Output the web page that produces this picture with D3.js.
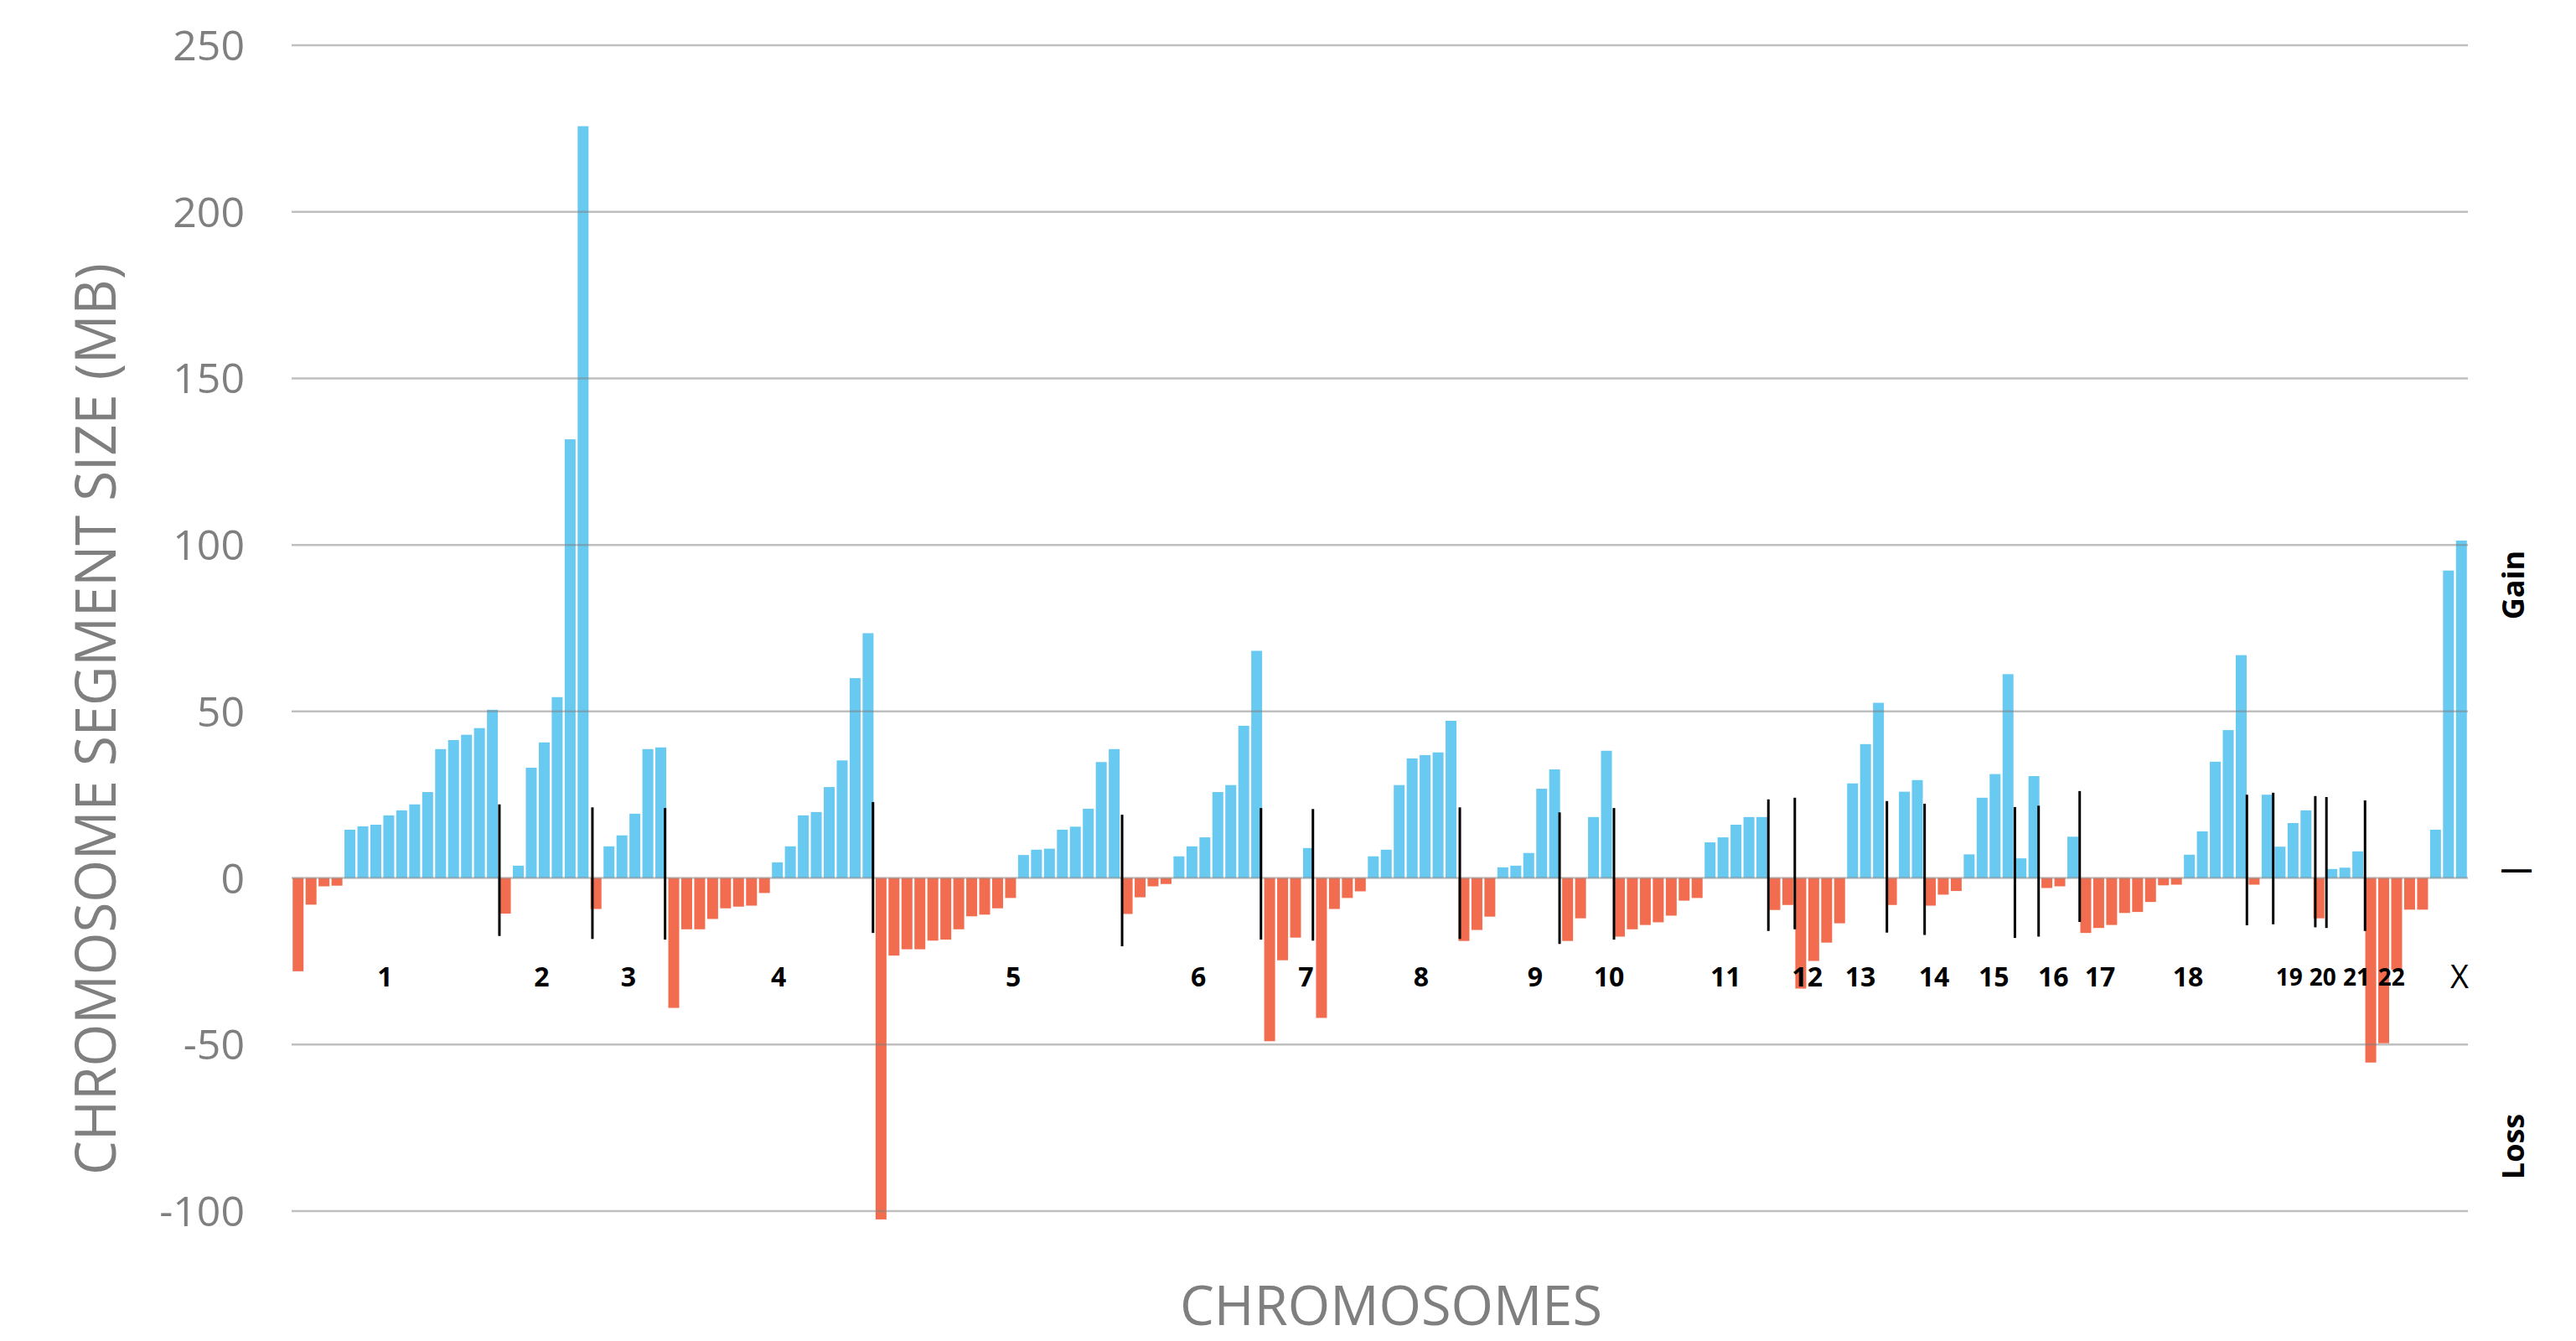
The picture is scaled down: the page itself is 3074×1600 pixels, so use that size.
<!DOCTYPE html>
<html>
<head>
<meta charset="utf-8">
<script src="https://cdn.jsdelivr.net/npm/d3@7"></script>
<style>
  body { margin: 0; background: #fff; }
  svg { display: block; }
</style>
</head>
<body>
<div id="chart"></div>
<script>
// segment sizes in MB, one bar per segment, in genome order (gain > 0, loss < 0)
const segmentSizes = [
  -28, -8, -2.5, -2.3, 14.5, 15.5, 16, 18.8, 20.3, 22.1, 25.8, 38.7, 41.4, 43, 45, 50.5,
  -10.7, 3.7, 33.1, 40.7, 54.3, 131.7, 225.7,
  -9.3, 9.5, 12.8, 19.3, 38.7, 39.2,
  -39, -15.4, -15.4, -12.3, -9.1, -8.6, -8.3, -4.5, 4.7, 9.5, 18.8, 19.8, 27.3, 35.3, 60, 73.5,
  -102.5, -23.3, -21.4, -21.4, -18.8, -18.5, -15.4, -11.5, -11, -9.1, -6, 6.9, 8.5, 8.8, 14.5, 15.4, 20.8, 34.8, 38.7,
  -10.8, -5.8, -2.5, -1.8, 6.5, 9.5, 12.2, 25.8, 27.9, 45.7, 68.2,
  -49, -24.7, -17.9, 9,
  -42, -9.3, -6, -4, 6.5, 8.5, 27.9, 35.9, 36.9, 37.7, 47.2,
  -18.9, -15.6, -11.6, 3.2, 3.7, 7.5, 26.8, 32.6,
  -18.9, -12.1, 18.3, 38.2,
  -17.6, -15.4, -14.1, -13.3, -11.3, -6.8, -6, 10.7, 12.2, 16, 18.3, 18.3,
  -9.6, -8.1,
  -33.2, -24.9, -19.4, -13.6, 28.4, 40.2, 52.6,
  -8.1, 25.9, 29.4,
  -8.3, -5, -3.9, 7.1, 24.1, 31.2, 61.2, 5.9,
  30.6,
  -3, -2.5, 12.4,
  -16.5, -15, -14.1, -10.5, -10.2, -7.2, -2.2, -2, 7, 14, 34.9, 44.4, 66.9,
  -2, 25,
  9.4, 16.5, 20.3,
  -12.1,
  2.7, 3.1, 8,
  -55.4, -49.6, -27.5, -9.5, -9.5, 14.5, 92.3, 101.3
]

// chromosome names and where they sit along the bar axis (in bar slots)
const chromLabels = ['1', '2', '3', '4', '5', '6', '7', '8', '9', '10', '11', '12',
  '13', '14', '15', '16', '17', '18', '19', '20', '21', '22', 'X']
const chromLabelSlots = [7.2, 19.3, 26.0, 37.6, 55.7, 70.0, 78.3, 87.2, 96.0, 101.7, 110.7, 117.0,
  121.1, 126.8, 131.4, 136.0, 139.6, 146.4, 154.2, 156.8, 159.4, 162.1, 167.35]

// chromosome separators: slot boundary, top and bottom value (MB)
const separatorSlots = [16.04, 23.22, 28.83, 44.88, 64.11, 74.83, 78.84, 90.18, 97.88, 102.08, 114.0,
  116.04, 123.15, 126.06, 133.03, 134.86, 138.03, 150.94, 152.97, 156.22, 157.08, 160.06]
const separatorTops = [22.1, 21.2, 21.0, 22.8, 19.0, 21.0, 20.7, 21.2, 19.7, 21.0, 23.6,
  24.1, 23.1, 22.3, 21.3, 21.7, 26.1, 25.0, 25.6, 24.6, 24.3, 23.3]
const separatorBottoms = [-17.4, -18.3, -18.5, -16.5, -20.5, -18.5, -18.8, -18.3, -19.8, -18.5, -15.9,
  -15.4, -16.4, -17.1, -18.0, -17.6, -13.2, -14.2, -13.9, -14.8, -15.0, -15.9]

const yTicks = [250, 200, 150, 100, 50, 0, -50, -100]

const width = 3074, height = 1600
const plot = { left: 348, right: 2945, top: 54, bottom: 1445 }

const svg = d3.select('#chart').append('svg')
    .attr('width', width)
    .attr('height', height)

const y = d3.scaleLinear().domain([-100, 250]).range([plot.bottom, plot.top])
const x = d3.scaleBand()
    .domain(d3.range(segmentSizes.length))
    .range([plot.left, plot.right])
    .paddingInner(0.16)
    .paddingOuter(0.08)
const slot = d3.scaleLinear().domain([0, segmentSizes.length]).range([plot.left, plot.right])

// bars
svg.append('g')
  .selectAll('rect')
  .data(segmentSizes)
  .join('rect')
    .attr('x', (d, i) => x(i))
    .attr('width', x.bandwidth())
    .attr('y', d => y(Math.max(0, d)))
    .attr('height', d => Math.abs(y(d) - y(0)))
    .attr('fill', d => d >= 0 ? '#68c9f1' : '#f26d4f')

// gridlines sit over the bars, half transparent
svg.append('g')
  .selectAll('line')
  .data(yTicks)
  .join('line')
    .attr('x1', plot.left)
    .attr('x2', plot.right)
    .attr('y1', d => y(d))
    .attr('y2', d => y(d))
    .attr('stroke', '#7f7f7f')
    .attr('stroke-opacity', 0.5)
    .attr('stroke-width', 2.5)

// y tick labels
svg.append('g')
  .selectAll('text')
  .data(yTicks)
  .join('text')
    .attr('x', 292)
    .attr('y', d => y(d))
    .attr('dy', '0.36em')
    .attr('text-anchor', 'end')
    .attr('font-family', 'Open Sans')
    .attr('font-size', 50)
    .attr('fill', '#7f7f7f')
    .text(d => d)

// chromosome separators
svg.append('g')
  .selectAll('line')
  .data(separatorSlots)
  .join('line')
    .attr('x1', d => slot(d))
    .attr('x2', d => slot(d))
    .attr('y1', (d, i) => y(separatorTops[i]))
    .attr('y2', (d, i) => y(separatorBottoms[i]))
    .attr('stroke', '#000')
    .attr('stroke-width', 3)

// chromosome labels
const small = ['19', '20', '21', '22']
svg.append('g')
  .selectAll('text')
  .data(chromLabels)
  .join('text')
    .attr('x', (d, i) => slot(chromLabelSlots[i]))
    .attr('y', y(-29.7))
    .attr('dy', '0.36em')
    .attr('text-anchor', 'middle')
    .attr('font-family', 'Open Sans')
    .attr('font-weight', d => d === 'X' ? 400 : 700)
    .attr('font-size', d => d === 'X' ? 38 : small.includes(d) ? 28 : 32)
    .attr('fill', '#000')
    .text(d => d)

// axis titles
svg.append('text')
    .attr('transform', 'translate(138,858) rotate(-90)')
    .attr('text-anchor', 'middle')
    .attr('font-family', 'Open Sans')
    .attr('font-size', 68)
    .attr('fill', '#7f7f7f')
    .attr('textLength', 1088)
    .attr('lengthAdjust', 'spacingAndGlyphs')
    .text('CHROMOSOME SEGMENT SIZE (MB)')

svg.append('text')
    .attr('x', 1660)
    .attr('y', 1581)
    .attr('text-anchor', 'middle')
    .attr('font-family', 'Open Sans')
    .attr('font-size', 66)
    .attr('fill', '#7f7f7f')
    .attr('textLength', 504)
    .attr('lengthAdjust', 'spacingAndGlyphs')
    .text('CHROMOSOMES')

// gain / loss side key
const side = [['Gain', 698], ['|', 1039], ['Loss', 1368]]
svg.append('g')
  .selectAll('text')
  .data(side)
  .join('text')
    .attr('transform', d => 'translate(3012,' + d[1] + ') rotate(-90)')
    .attr('text-anchor', 'middle')
    .attr('font-family', 'Open Sans')
    .attr('font-weight', 700)
    .attr('font-size', 36)
    .attr('fill', '#000')
    .text(d => d[0])
</script>
</body>
</html>
